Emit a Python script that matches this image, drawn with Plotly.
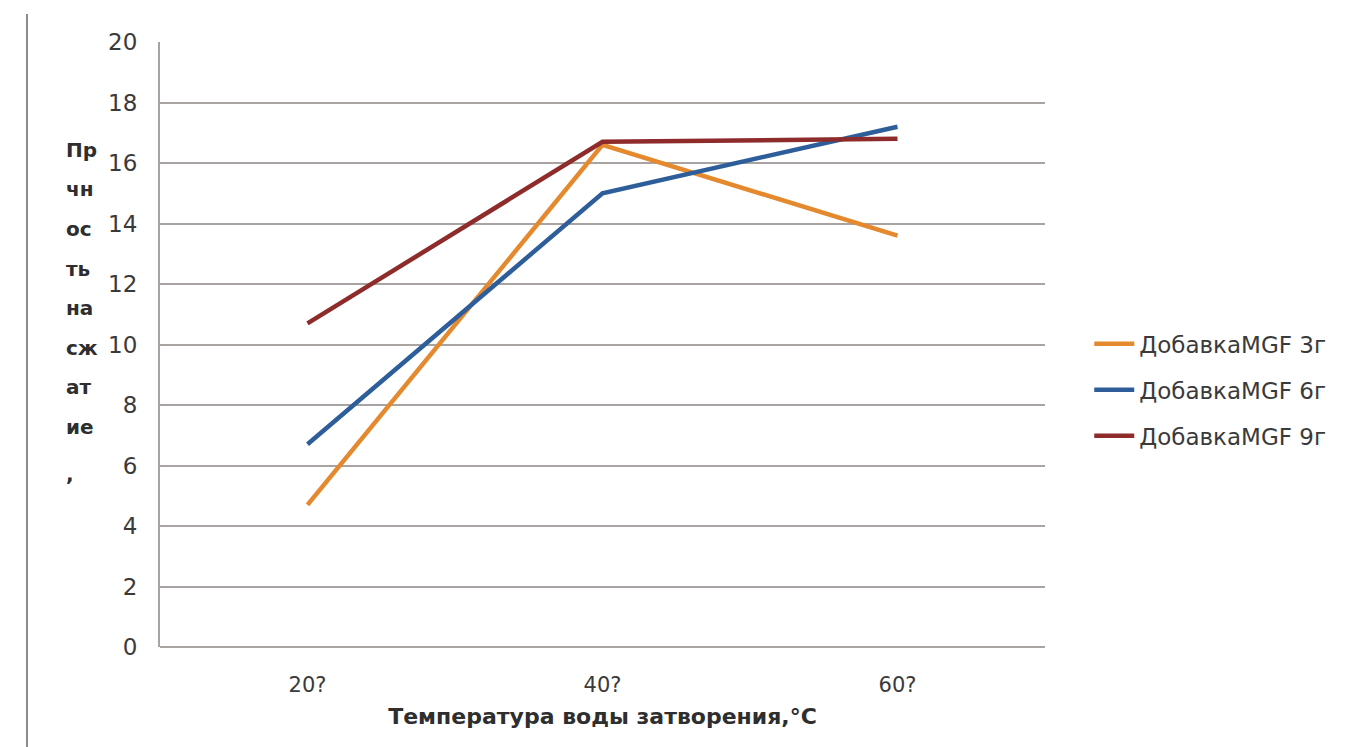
import plotly.graph_objects as go

# Water temperature categories and compressive strength per additive dose
temps = ["20?", "40?", "60?"]
mgf_3g = [4.7, 16.6, 13.6]
mgf_6g = [6.7, 15.0, 17.2]
mgf_9g = [10.7, 16.7, 16.8]
series_names = ["ДобавкаMGF 3г", "ДобавкаMGF 6г", "ДобавкаMGF 9г"]
y_ticks = [0, 2, 4, 6, 8, 10, 12, 14, 16, 18, 20]
y_caption = ["Пр", "чн", "ос", "ть", "на", "сж", "ат", "ие", ","]

colors = ["#E5892E", "#2E5E9A", "#8E2B2B"]
font_family = "DejaVu Sans, sans-serif"

fig = go.Figure()
for i, (name, vals, col) in enumerate(zip(series_names, [mgf_3g, mgf_6g, mgf_9g], colors)):
    fig.add_trace(go.Scatter(
        x=temps, y=vals, name=name, mode="lines",
        line=dict(color=col, width=4.5), legendgroup=f"g{i}",
    ))

fig.update_layout(
    width=1349, height=747,
    margin=dict(l=160, r=304, t=42, b=100),
    paper_bgcolor="white", plot_bgcolor="white",
    font=dict(family=font_family, color="#333333"),
    legend=dict(
        x=1.05, y=0.425, xanchor="left", yanchor="middle",
        font=dict(size=23, color="#3A3A3A"),
        tracegroupgap=13, itemwidth=40,
    ),
    xaxis=dict(
        type="category", range=[-0.5, 2.5],
        showgrid=False, showline=False, zeroline=False,
        tickfont=dict(size=21, color="#3A3A3A"),
        ticks="", ticklabelstandoff=23,
        title=dict(text="<b>Температура воды затворения,°C</b>",
                   font=dict(size=22, color="#2E2E2E"), standoff=12),
    ),
    yaxis=dict(
        range=[0, 20], tickvals=y_ticks,
        showgrid=True, gridcolor="#A9A4A2", gridwidth=2,
        showline=True, linecolor="#A9A4A2", linewidth=2,
        zeroline=True, zerolinecolor="#A9A4A2", zerolinewidth=2,
        tickfont=dict(size=23, color="#3A3A3A"),
        ticks="", ticklabelstandoff=16,
    ),
)

# Wrapped vertical axis caption, one short line per annotation
caption_top_px = 150
caption_step_px = 39.5
for k, part in enumerate(y_caption):
    py = caption_top_px + k * caption_step_px + (8 if part == "," else 0)
    fig.add_annotation(
        xref="paper", yref="paper", x=(64 - 160) / 885, y=(647 - py) / 605,
        xanchor="left", yanchor="middle", showarrow=False,
        text=f"<b>{part}</b>",
        font=dict(size=20, color="#2E2E2E", family=font_family),
    )

# Frame line on the left edge of the page
fig.add_shape(type="line", xref="paper", yref="paper",
              x0=(27 - 160) / 885, x1=(27 - 160) / 885, y0=-100 / 605, y1=1 + 28 / 605,
              line=dict(color="#8E8A88", width=2))

fig.write_html("out.html")
